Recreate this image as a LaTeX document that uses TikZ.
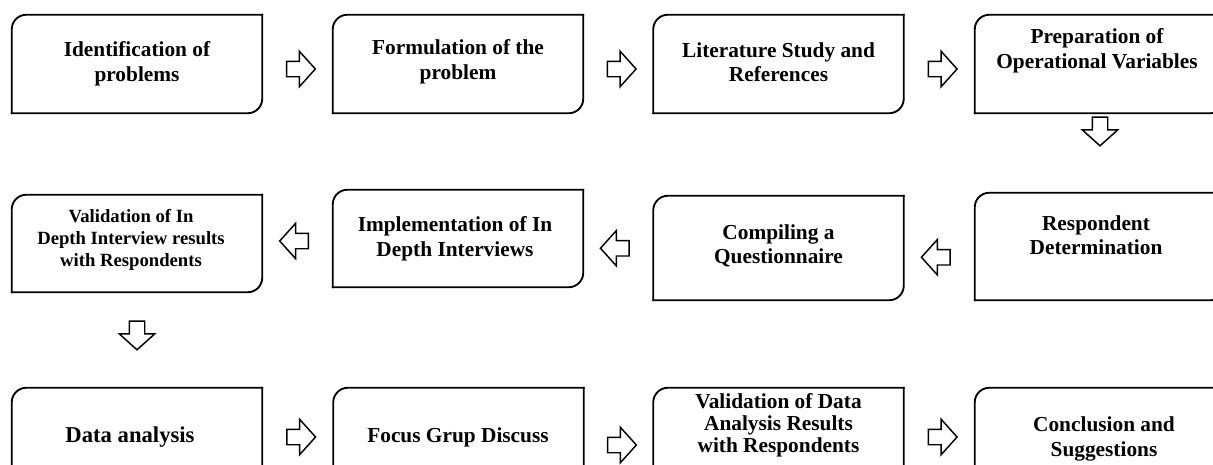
\documentclass[tikz,border=0pt]{standalone}
\usepackage{fontspec}
\setmainfont{Liberation Serif}
\usetikzlibrary{calc,shapes.arrows}

\tikzset{
  stepbox/.style={minimum width=187.5pt, minimum height=73.5pt, inner sep=0pt},
  stepframe/.style={line width=1.4pt, rounded corners=11pt, line cap=rect},
  steptext/.style={align=center, inner sep=0pt, font=\fontsize{16}{18.4}\selectfont\bfseries},
  steptextlong/.style={steptext, font=\fontsize{16}{16.5}\selectfont\bfseries},
  blockarrow/.style={single arrow, draw=black, fill=white, line width=1.1pt,
    minimum height=21.5pt, inner xsep=1pt, inner ysep=5.25pt,
    single arrow head extend=7.5pt, single arrow tip angle=96}
}
% frame with round top-left and bottom-right corners
\newcommand{\drawframe}[1]{%
  \draw[stepframe] (#1.north east) -- (#1.north west) -- (#1.south west);
  \draw[stepframe] (#1.south west) -- (#1.south east) -- (#1.north east);}

\begin{document}
\begin{tikzpicture}[x=0.75pt,y=0.75pt,yscale=-1,xscale=1]
\useasboundingbox (0,0) rectangle (1213,464);
\clip (0,0) rectangle (1213,464);

% Boxes
\node[stepbox] (b1) at (137,64) {};
\node[stepbox] (b2) at (458,64) {};
\node[stepbox] (b3) at (778.5,64) {};
\node[stepbox] (b4) at (1100,64) {};
\node[stepbox, minimum height=80.25pt] (b5) at (1100,246.5) {};
\node[stepbox, minimum height=78pt] (b6) at (778.5,248) {};
\node[stepbox, minimum height=72.75pt] (b7) at (458,238.5) {};
\node[stepbox, minimum height=72.75pt] (b8) at (137,243.5) {};
\node[stepbox] (b9) at (137,437) {};
\node[stepbox] (b10) at (458.5,437) {};
\node[stepbox] (b11) at (778.5,437) {};
\node[stepbox] (b12) at (1100,437) {};
\foreach \b in {b1,b2,b3,b4,b5,b6,b7,b8,b9,b10,b11,b12} {\drawframe{\b}}

% Texts
\node[steptext] (t1) at (137,64) {Identification of\\problems};
\node[steptext] (t2) at (458,62) {Formulation of the\\problem};
\node[steptext] (t3) at (778.5,62) {Literature Study and\\References};
\node[steptext] (t4) at (1097,51) {Preparation of\\Operational Variables};
\node[steptext] (t5) at (1096,235) {Respondent\\Determination};
\node[steptext] (t6) at (778.5,246) {Compiling a\\Questionnaire};
\node[steptext] (t7) at (455,238.5) {Implementation of In\\Depth Interviews};
\node[steptextlong, font=\fontsize{14}{16.5}\selectfont\bfseries] (t8) at (131,240) {Validation of In\\Depth Interview results\\with Respondents};
\node[steptext, font=\fontsize{17}{19}\selectfont\bfseries] (t9) at (130,437) {Data analysis};
\node[steptext] (t10) at (458,437) {Focus Grup Discuss};
\node[steptextlong] (t11) at (778.5,425) {Validation of Data\\Analysis Results\\with Respondents};
\node[steptext] (t12) at (1104,439) {Conclusion and\\Suggestions};

% Arrows
\node[blockarrow] (a1) at ($(b1.east)!0.5!(b2.west)+(0,5)$) {};
\node[blockarrow] (a2) at ($(b2.east)!0.5!(b3.west)+(0,5)$) {};
\node[blockarrow] (a3) at ($(b3.east)!0.5!(b4.west)+(0,5)$) {};
\node[blockarrow, rotate=-90] (d1) at ($(b4.south)!0.5!(b5.north)+(0,-25)$) {};
\node[blockarrow, rotate=180] (a4) at ($(b6.east)!0.5!(b5.west)+(0,10)$) {};
\node[blockarrow, rotate=180] (a5) at ($(b7.east)!0.5!(b6.west)+(0,5)$) {};
\node[blockarrow, rotate=180] (a6) at ($(b8.east)!0.5!(b7.west)$) {};
\node[blockarrow, rotate=-90] (d2) at ($(b8.south)!0.5!(b9.north)+(0,-8)$) {};
\node[blockarrow] (a7) at ($(b9.east)!0.5!(b10.west)$) {};
\node[blockarrow] (a8) at ($(b10.east)!0.5!(b11.west)+(0,8)$) {};
\node[blockarrow] (a9) at ($(b11.east)!0.5!(b12.west)$) {};

\end{tikzpicture}
\end{document}
